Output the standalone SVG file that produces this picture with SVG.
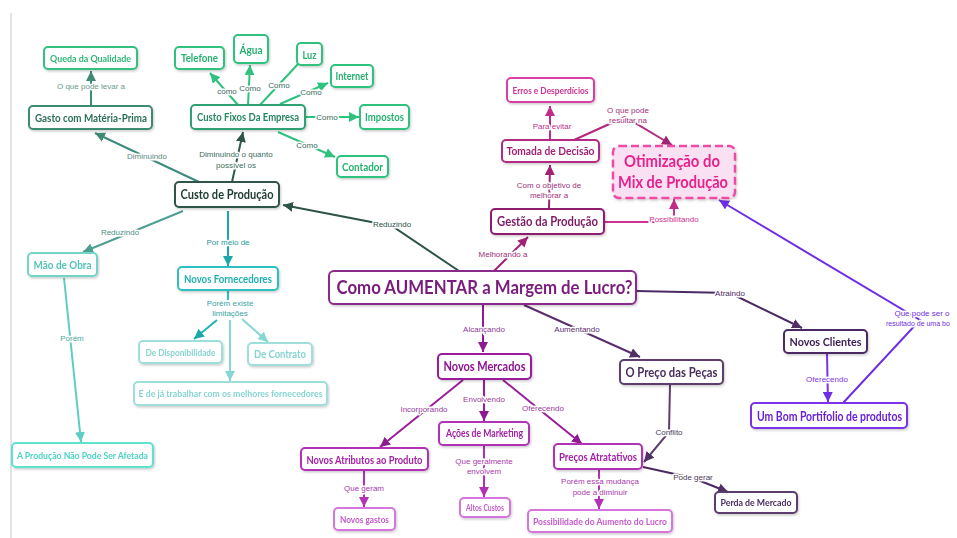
<svg xmlns="http://www.w3.org/2000/svg" width="957" height="538" viewBox="0 0 957 538">
<style>
.box{fill:#fff;stroke-width:2}
.n{font-family:Lato,"Liberation Sans",sans-serif;font-weight:700;text-anchor:middle}
.l{font-family:"Liberation Sans",Arial,sans-serif;font-size:8px;text-anchor:middle;stroke:#fff;stroke-width:3px;paint-order:stroke;stroke-linejoin:round}
.c path{fill:none;stroke-width:2}
</style>
<defs>
<filter id="sh" x="-10%" y="-20%" width="125%" height="150%"><feDropShadow dx="1" dy="1.5" stdDeviation="1" flood-color="#000" flood-opacity="0.2"/></filter>
<marker id="mG" viewBox="0 0 10 10" refX="10" refY="5" markerWidth="10" markerHeight="10" markerUnits="userSpaceOnUse" orient="auto"><path d="M0,0 L10,5 L0,10 z" fill="#2ec27e"/></marker>
<marker id="mGd" viewBox="0 0 10 10" refX="10" refY="5" markerWidth="10" markerHeight="10" markerUnits="userSpaceOnUse" orient="auto"><path d="M0,0 L10,5 L0,10 z" fill="#3e8a75"/></marker>
<marker id="mGk" viewBox="0 0 10 10" refX="10" refY="5" markerWidth="10" markerHeight="10" markerUnits="userSpaceOnUse" orient="auto"><path d="M0,0 L10,5 L0,10 z" fill="#2d5446"/></marker>
<marker id="mT1" viewBox="0 0 10 10" refX="10" refY="5" markerWidth="10" markerHeight="10" markerUnits="userSpaceOnUse" orient="auto"><path d="M0,0 L10,5 L0,10 z" fill="#4e9e92"/></marker>
<marker id="mT2" viewBox="0 0 10 10" refX="10" refY="5" markerWidth="10" markerHeight="10" markerUnits="userSpaceOnUse" orient="auto"><path d="M0,0 L10,5 L0,10 z" fill="#1aa8a8"/></marker>
<marker id="mT3" viewBox="0 0 10 10" refX="10" refY="5" markerWidth="10" markerHeight="10" markerUnits="userSpaceOnUse" orient="auto"><path d="M0,0 L10,5 L0,10 z" fill="#86d6d2"/></marker>
<marker id="mT4" viewBox="0 0 10 10" refX="10" refY="5" markerWidth="10" markerHeight="10" markerUnits="userSpaceOnUse" orient="auto"><path d="M0,0 L10,5 L0,10 z" fill="#5ccfc0"/></marker>
<marker id="mM1" viewBox="0 0 10 10" refX="10" refY="5" markerWidth="10" markerHeight="10" markerUnits="userSpaceOnUse" orient="auto"><path d="M0,0 L10,5 L0,10 z" fill="#a02274"/></marker>
<marker id="mM2" viewBox="0 0 10 10" refX="10" refY="5" markerWidth="10" markerHeight="10" markerUnits="userSpaceOnUse" orient="auto"><path d="M0,0 L10,5 L0,10 z" fill="#c02c88"/></marker>
<marker id="mP1" viewBox="0 0 10 10" refX="10" refY="5" markerWidth="10" markerHeight="10" markerUnits="userSpaceOnUse" orient="auto"><path d="M0,0 L10,5 L0,10 z" fill="#8f1a92"/></marker>
<marker id="mP2" viewBox="0 0 10 10" refX="10" refY="5" markerWidth="10" markerHeight="10" markerUnits="userSpaceOnUse" orient="auto"><path d="M0,0 L10,5 L0,10 z" fill="#b231b5"/></marker>
<marker id="mD" viewBox="0 0 10 10" refX="10" refY="5" markerWidth="10" markerHeight="10" markerUnits="userSpaceOnUse" orient="auto"><path d="M0,0 L10,5 L0,10 z" fill="#4f2f64"/></marker>
<marker id="mV" viewBox="0 0 10 10" refX="10" refY="5" markerWidth="10" markerHeight="10" markerUnits="userSpaceOnUse" orient="auto"><path d="M0,0 L10,5 L0,10 z" fill="#6e2ee4"/></marker>
</defs>
<rect width="957" height="538" fill="#fff"/>
<line x1="11" y1="13" x2="11" y2="538" stroke="#c8c8c8" stroke-width="1"/>

<g id="connectors" class="c">
<path d="M91,106 L91,71" stroke="#3e8a75" marker-end="url(#mGd)"/>
<path d="M199,182 L95,133" stroke="#3e8a7c" marker-end="url(#mGd)"/>
<path d="M232,182 L243,132" stroke="#2d5a4a" marker-end="url(#mGk)"/>
<path d="M238,105 L210,73" stroke="#2ec27e" marker-end="url(#mG)"/>
<path d="M248,105 L250,65" stroke="#2ec27e" marker-end="url(#mG)"/>
<path d="M260,105 L298,64" stroke="#2ec27e"/>
<path d="M280,104 L328,83" stroke="#2ec27e" marker-end="url(#mG)"/>
<path d="M305,117 L359,117" stroke="#2ec27e" marker-end="url(#mG)"/>
<path d="M278,132 L335,157" stroke="#2ec27e" marker-end="url(#mG)"/>
<path d="M459,271 L392,226 L283,205" stroke="#2d5446" marker-end="url(#mGk)"/>
<path d="M183,211 L83,252" stroke="#4e9e92" marker-end="url(#mT1)"/>
<path d="M228,211 L228,266" stroke="#1aa8a8" marker-end="url(#mT2)"/>
<path d="M228,290 L228,300" stroke="#2fc0c0"/>
<path d="M217,320 L194,339" stroke="#22b4b4" marker-end="url(#mT2)"/>
<path d="M242,319 L268,342" stroke="#86d6d2" marker-end="url(#mT3)"/>
<path d="M230,320 L230,381" stroke="#86d6d2" marker-end="url(#mT3)"/>
<path d="M64,278 L81,442" stroke="#5ccfc0" marker-end="url(#mT4)"/>
<path d="M494,271 L528,237" stroke="#a02274" marker-end="url(#mM1)"/>
<path d="M549,209 L550,165" stroke="#a02274" marker-end="url(#mM1)"/>
<path d="M550,140 L550,106" stroke="#c02c88" marker-end="url(#mM2)"/>
<path d="M574,140 L625,117 L672,145" stroke="#b02a80" marker-end="url(#mM1)"/>
<path d="M604,222 L674,222 L674,199" stroke="#cf3190" marker-end="url(#mM2)"/>
<path d="M483,304 L483,352" stroke="#8f1a92" marker-end="url(#mP1)"/>
<path d="M524,305 L640,357" stroke="#5a2d6e" marker-end="url(#mD)"/>
<path d="M636,291 L730,293 L802,328" stroke="#4b2a63" marker-end="url(#mD)"/>
<path d="M827,354 L828,402" stroke="#7b33e8" marker-end="url(#mV)"/>
<path d="M843,403 L920,320 L719,200" stroke="#6e2ee4" marker-end="url(#mV)"/>
<path d="M463,380 L380,447" stroke="#9a1c9c" marker-end="url(#mP1)"/>
<path d="M484,380 L484,421" stroke="#9a1c9c" marker-end="url(#mP1)"/>
<path d="M503,380 L582,444" stroke="#9a1c9c" marker-end="url(#mP1)"/>
<path d="M364,470 L364,507" stroke="#b231b5" marker-end="url(#mP2)"/>
<path d="M484,446 L484,497" stroke="#b231b5" marker-end="url(#mP2)"/>
<path d="M599,470 L599,509" stroke="#b231b5" marker-end="url(#mP2)"/>
<path d="M670,385 L669,432 L644,462" stroke="#5c3d6e" marker-end="url(#mD)"/>
<path d="M643,467 L693,478 L728,492" stroke="#4b2a63" marker-end="url(#mD)"/>

<g id="labels">
<text class="l" x="91" y="89" fill="#6a9a8a">O que pode levar a</text>
<text class="l" x="147" y="159" fill="#5a8a7e">Diminuindo</text>
<text class="l" x="236" y="157" fill="#3b6e5e">Diminuindo o quanto</text>
<text class="l" x="236" y="168" fill="#3b6e5e">possível os</text>
<text class="l" x="227" y="94" fill="#3a6a5a">como</text>
<text class="l" x="250" y="91" fill="#3a6a5a">Como</text>
<text class="l" x="279" y="88" fill="#3a6a5a">Como</text>
<text class="l" x="311" y="95" fill="#3a6a5a">Como</text>
<text class="l" x="327" y="120" fill="#3a6a5a">Como</text>
<text class="l" x="307" y="148" fill="#3a6a5a">Como</text>
<text class="l" x="392" y="227" fill="#2d5446">Reduzindo</text>
<text class="l" x="120" y="235" fill="#4e8e84">Reduzindo</text>
<text class="l" x="228" y="245" fill="#2a9a9a">Por meio de</text>
<text class="l" x="230" y="306" fill="#3aa5a5">Porém existe</text>
<text class="l" x="230" y="316" fill="#3aa5a5">limitações</text>
<text class="l" x="72" y="341" fill="#4aa89c">Porém</text>
<text class="l" x="503" y="257" fill="#a0307a">Melhorando a</text>
<text class="l" x="549" y="188" fill="#a0307a">Com o objetivo de</text>
<text class="l" x="549" y="198" fill="#a0307a">melhorar a</text>
<text class="l" x="552" y="129" fill="#c0308f">Para evitar</text>
<text class="l" x="628" y="113" fill="#a0307a">O que pode</text>
<text class="l" x="628" y="123" fill="#a0307a">resultar na</text>
<text class="l" x="674" y="222" fill="#cf3190">Possibilitando</text>
<text class="l" x="484" y="332" fill="#8a3a90">Alcançando</text>
<text class="l" x="577" y="332" fill="#5a2d6e">Aumentando</text>
<text class="l" x="730" y="296" fill="#4b2a63">Atraindo</text>
<text class="l" x="827" y="382" fill="#7b33e8">Oferecendo</text>
<text class="l" x="922" y="316" fill="#6e2ee4">Que pode ser o</text>
<text class="l" x="886" y="326" fill="#6e2ee4" style="text-anchor:start;font-size:7px">resultado de uma bo</text>
<text class="l" x="424" y="412" fill="#9a3a9c">Incorporando</text>
<text class="l" x="484" y="402" fill="#9a3a9c">Envolvendo</text>
<text class="l" x="543" y="411" fill="#9a3a9c">Oferecendo</text>
<text class="l" x="364" y="491" fill="#a83aac">Que geram</text>
<text class="l" x="484" y="464" fill="#a83aac">Que geralmente</text>
<text class="l" x="484" y="474" fill="#a83aac">envolvem</text>
<text class="l" x="600" y="484" fill="#a83aac">Porém essa mudança</text>
<text class="l" x="600" y="495" fill="#a83aac">pode a diminuir</text>
<text class="l" x="669" y="435" fill="#4b3a5a">Conflito</text>
<text class="l" x="693" y="480" fill="#4b3a5a">Pode gerar</text>
</g>
</g>

<g id="queda" filter="url(#sh)"><rect class="box" x="44" y="47" width="93" height="22" rx="4" stroke="#35c07f"/><text class="n" x="90.5" y="61.5" font-size="10" textLength="81" lengthAdjust="spacingAndGlyphs" fill="#2fb577">Queda da Qualidade</text></g>
<g id="gasto" filter="url(#sh)"><rect class="box" x="29" y="106" width="123" height="23" rx="4" stroke="#3e8a72"/><text class="n" x="91" y="122" font-size="12" textLength="112" lengthAdjust="spacingAndGlyphs" fill="#2f6e5b">Gasto com Matéria-Prima</text></g>
<g id="cfixos" filter="url(#sh)"><rect class="box" x="191" y="105" width="114" height="24" rx="4" stroke="#2fa073"/><text class="n" x="248" y="121" font-size="10.5" textLength="102" lengthAdjust="spacingAndGlyphs" fill="#27875f">Custo Fixos Da Empresa</text></g>
<g id="telefone" filter="url(#sh)"><rect class="box" x="175" y="47" width="49" height="22" rx="4" stroke="#2ec27e"/><text class="n" x="199.5" y="62" font-size="11" textLength="37" lengthAdjust="spacingAndGlyphs" fill="#25b070">Telefone</text></g>
<g id="agua" filter="url(#sh)"><rect class="box" x="234" y="35" width="34" height="28" rx="4" stroke="#2ec27e"/><text class="n" x="251" y="54" font-size="12" textLength="23" lengthAdjust="spacingAndGlyphs" fill="#25b070">Água</text></g>
<g id="luz" filter="url(#sh)"><rect class="box" x="297" y="43" width="25" height="22" rx="4" stroke="#2ec27e"/><text class="n" x="309.5" y="58.5" font-size="12" textLength="14" lengthAdjust="spacingAndGlyphs" fill="#25b070">Luz</text></g>
<g id="internet" filter="url(#sh)"><rect class="box" x="331" y="65" width="42" height="22" rx="4" stroke="#2ec27e"/><text class="n" x="352" y="80" font-size="11" textLength="33" lengthAdjust="spacingAndGlyphs" fill="#25b070">Internet</text></g>
<g id="impostos" filter="url(#sh)"><rect class="box" x="360" y="105" width="49" height="24" rx="4" stroke="#2ec27e"/><text class="n" x="384.5" y="121" font-size="12" textLength="39" lengthAdjust="spacingAndGlyphs" fill="#25b070">Impostos</text></g>
<g id="contador" filter="url(#sh)"><rect class="box" x="337" y="156" width="51" height="21" rx="4" stroke="#2ec27e"/><text class="n" x="362.5" y="171" font-size="12" textLength="41" lengthAdjust="spacingAndGlyphs" fill="#25b070">Contador</text></g>
<g id="cprod" filter="url(#sh)"><rect class="box" x="175" y="182" width="104" height="25" rx="4" stroke="#2d5446"/><text class="n" x="227" y="199" font-size="13.5" textLength="93" lengthAdjust="spacingAndGlyphs" fill="#1f3a31">Custo de Produção</text></g>
<g id="mao" filter="url(#sh)"><rect class="box" x="28" y="253" width="69" height="23" rx="4" stroke="#72d5c8"/><text class="n" x="62.5" y="269" font-size="12" textLength="58" lengthAdjust="spacingAndGlyphs" fill="#52c3b5">Mão de Obra</text></g>
<g id="novosforn" filter="url(#sh)"><rect class="box" x="178" y="267" width="100" height="23" rx="4" stroke="#2fc0c0"/><text class="n" x="228" y="283" font-size="11" textLength="88" lengthAdjust="spacingAndGlyphs" fill="#1fb0b0">Novos Fornecedores</text></g>
<g id="disp" filter="url(#sh)"><rect class="box" x="139" y="341" width="83" height="22" rx="4" stroke="#9edfdc"/><text class="n" x="180.5" y="355.5" font-size="10" textLength="70" lengthAdjust="spacingAndGlyphs" fill="#86d4d0">De Disponibilidade</text></g>
<g id="contrato" filter="url(#sh)"><rect class="box" x="248" y="343" width="64" height="22" rx="4" stroke="#9edfdc"/><text class="n" x="280" y="358" font-size="11" textLength="52" lengthAdjust="spacingAndGlyphs" fill="#86d4d0">De Contrato</text></g>
<g id="edeja" filter="url(#sh)"><rect class="box" x="134" y="382" width="193" height="23" rx="4" stroke="#9edfdc"/><text class="n" x="230.5" y="397" font-size="10" textLength="184" lengthAdjust="spacingAndGlyphs" fill="#86d4d0">E de já trabalhar com os melhores fornecedores</text></g>
<g id="aprod" filter="url(#sh)"><rect class="box" x="12" y="443" width="141" height="24" rx="4" stroke="#5fe2d0"/><text class="n" x="82.5" y="458.5" font-size="10" textLength="131" lengthAdjust="spacingAndGlyphs" fill="#4dd3c2">A Produção Não Pode Ser Afetada</text></g>
<g id="main" filter="url(#sh)"><rect class="box" x="329" y="271" width="307" height="33" rx="5" stroke="#8a2c8a"/><text class="n" x="484.5" y="294" font-size="19.5" textLength="296" lengthAdjust="spacingAndGlyphs" fill="#7a1e7c">Como AUMENTAR a Margem de Lucro?</text></g>
<g id="gestao" filter="url(#sh)"><rect class="box" x="491" y="209" width="113" height="25" rx="4" stroke="#8f1f6e"/><text class="n" x="547.5" y="226" font-size="14" textLength="101" lengthAdjust="spacingAndGlyphs" fill="#7e1a62">Gestão da Produção</text></g>
<g id="tomada" filter="url(#sh)"><rect class="box" x="502" y="140" width="97" height="22" rx="4" stroke="#b22c82"/><text class="n" x="550.5" y="155" font-size="12" textLength="88" lengthAdjust="spacingAndGlyphs" fill="#a22272">Tomada de Decisão</text></g>
<g id="erros" filter="url(#sh)"><rect class="box" x="507" y="78" width="87" height="24" rx="4" stroke="#d93fa2"/><text class="n" x="550.5" y="93.5" font-size="10" textLength="76" lengthAdjust="spacingAndGlyphs" fill="#cf3394">Erros e Desperdícios</text></g>
<g id="otim" filter="url(#sh)"><rect x="613" y="146" width="122" height="52" rx="6" fill="#f9e0f2" stroke="#ee4ca4" stroke-width="2.5" stroke-dasharray="8 4"/><text class="n" x="672" y="167" font-size="17" textLength="96" lengthAdjust="spacingAndGlyphs" fill="#e6228d">Otimização do</text><text class="n" x="673" y="188" font-size="17" textLength="110" lengthAdjust="spacingAndGlyphs" fill="#e6228d">Mix de Produção</text></g>
<g id="nm" filter="url(#sh)"><rect class="box" x="438" y="354" width="93" height="25" rx="4" stroke="#9a1c9c"/><text class="n" x="484.5" y="371" font-size="12.5" textLength="82" lengthAdjust="spacingAndGlyphs" fill="#8c128f">Novos Mercados</text></g>
<g id="natrib" filter="url(#sh)"><rect class="box" x="301" y="448" width="127" height="22" rx="4" stroke="#b231b5"/><text class="n" x="364.5" y="463.5" font-size="11" textLength="116" lengthAdjust="spacingAndGlyphs" fill="#a321a6">Novos Atributos ao Produto</text></g>
<g id="acoes" filter="url(#sh)"><rect class="box" x="439" y="422" width="90" height="23" rx="4" stroke="#b231b5"/><text class="n" x="484.5" y="437" font-size="11" textLength="77" lengthAdjust="spacingAndGlyphs" fill="#a321a6">Ações de Marketing</text></g>
<g id="precos" filter="url(#sh)"><rect class="box" x="554" y="444" width="88" height="25" rx="4" stroke="#b231b5"/><text class="n" x="598" y="460.5" font-size="11.5" textLength="78" lengthAdjust="spacingAndGlyphs" fill="#a321a6">Preços Atratativos</text></g>
<g id="ngastos" filter="url(#sh)"><rect class="box" x="334" y="508" width="61" height="22" rx="4" stroke="#d576dc"/><text class="n" x="364.5" y="522.5" font-size="10" textLength="49" lengthAdjust="spacingAndGlyphs" fill="#c65acd">Novos gastos</text></g>
<g id="altos" filter="url(#sh)"><rect class="box" x="460" y="498" width="50" height="19" rx="4" stroke="#d576dc"/><text class="n" x="485" y="511" font-size="9" textLength="38" lengthAdjust="spacingAndGlyphs" fill="#c65acd">Altos Custos</text></g>
<g id="possib" filter="url(#sh)"><rect class="box" x="528" y="510" width="144" height="22" rx="4" stroke="#d576dc"/><text class="n" x="600" y="524.5" font-size="10" textLength="134" lengthAdjust="spacingAndGlyphs" fill="#c65acd">Possibilidade do Aumento do Lucro</text></g>
<g id="opreco" filter="url(#sh)"><rect class="box" x="620" y="360" width="103" height="24" rx="4" stroke="#5c3d6e"/><text class="n" x="671.5" y="377" font-size="12.5" textLength="92" lengthAdjust="spacingAndGlyphs" fill="#4a2d5c">O Preço das Peças</text></g>
<g id="perda" filter="url(#sh)"><rect class="box" x="715" y="492" width="82" height="21" rx="4" stroke="#5c3d6e"/><text class="n" x="756" y="506" font-size="10" textLength="71" lengthAdjust="spacingAndGlyphs" fill="#4a2d5c">Perda de Mercado</text></g>
<g id="nclientes" filter="url(#sh)"><rect class="box" x="784" y="330" width="83" height="23" rx="4" stroke="#4b2a63"/><text class="n" x="825.5" y="346" font-size="12" textLength="72" lengthAdjust="spacingAndGlyphs" fill="#3c1d52">Novos Clientes</text></g>
<g id="umbom" filter="url(#sh)"><rect class="box" x="751" y="403" width="156" height="25" rx="4" stroke="#7b33e8"/><text class="n" x="829.5" y="420.5" font-size="12.5" textLength="145" lengthAdjust="spacingAndGlyphs" fill="#6a22d6">Um Bom Portifolio de produtos</text></g>
</svg>
